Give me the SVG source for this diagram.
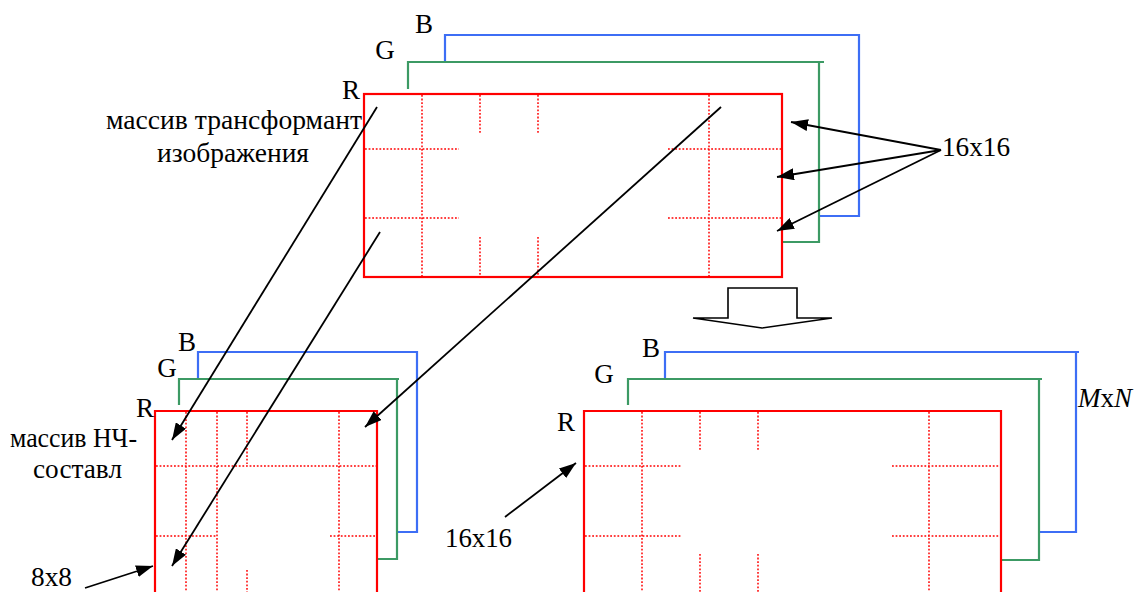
<svg xmlns="http://www.w3.org/2000/svg" width="1136" height="592" viewBox="0 0 1136 592">
<style>
.t{font-family:"Liberation Serif","DejaVu Serif","Times New Roman",serif;font-size:27px;fill:#000}
.r{fill:none;stroke:#ff0000;stroke-width:2.2}
.g{fill:none;stroke:#3c9a64;stroke-width:2.2}
.b{fill:none;stroke:#3d6ef5;stroke-width:2.2}
.d{fill:none;stroke:#ff0000;stroke-width:1.5;stroke-dasharray:1.8,1.8}
.c{fill:none;stroke:#000;stroke-width:1.8;marker-end:url(#ah)}
</style>
<defs>
<marker id="ah" markerUnits="userSpaceOnUse" markerWidth="17" markerHeight="12" refX="17" refY="6" orient="auto">
<path d="M0,0 L17,6 L0,12 z" fill="#000"/>
</marker>
</defs>
<rect width="1136" height="592" fill="#fff"/>

<g id="top-array">
<path class="b" d="M445,62 V35 H859 V216 H819"/>
<path class="g" d="M408,89 V62 H824 M819,62 V242 H782"/>
<path class="d" d="M422,95 V276 M709,95 V276 M480,95 V134 M480,237 V276 M538,95 V134 M538,237 V276 M365,149 H459 M668,149 H781 M365,218 H459 M668,218 H781"/>
<rect class="r" x="364" y="94" width="418" height="183"/>
<text class="t" x="424" y="33" text-anchor="middle">B</text>
<text class="t" x="385" y="59" text-anchor="middle">G</text>
<text class="t" x="351" y="99" text-anchor="middle">R</text>
<text class="t" x="106" y="129" textLength="256" lengthAdjust="spacingAndGlyphs">массив трансформант</text>
<text class="t" x="157" y="162" textLength="152" lengthAdjust="spacingAndGlyphs">изображения</text>
<text class="t" x="942" y="156" textLength="68" lengthAdjust="spacingAndGlyphs">16x16</text>
</g>

<g id="lowfreq-array">
<path class="b" d="M198,379 V352 H417 V532 H397"/>
<path class="g" d="M179,405 V379 H399 M397,379 V559 H377"/>
<path class="d" d="M186,412 V592 M217,412 V592 M339,412 V592 M247,412 V464 M247,570 V592 M156,466 H376 M156,536 H217 M330,536 H376"/>
<path class="r" d="M155,592 V411 H377 V592"/>
<text class="t" x="187" y="351" text-anchor="middle">B</text>
<text class="t" x="167" y="377" text-anchor="middle">G</text>
<text class="t" x="145" y="417" text-anchor="middle">R</text>
<text class="t" x="10" y="447" textLength="127" lengthAdjust="spacingAndGlyphs">массив НЧ-</text>
<text class="t" x="33" y="478" textLength="89" lengthAdjust="spacingAndGlyphs">составл</text>
<text class="t" x="31" y="586" textLength="41" lengthAdjust="spacingAndGlyphs">8x8</text>
</g>

<g id="result-array">
<path class="b" d="M665,379 V352 H1079 M1076,352 V532 H1039"/>
<path class="g" d="M628,405 V379 H1042 M1039,379 V560 H1001"/>
<path class="d" d="M642,412 V592 M929,412 V592 M700,412 V451 M700,554 V592 M758,412 V451 M758,554 V592 M585,466 H681 M892,466 H1000 M585,536 H681 M892,536 H1000"/>
<path class="r" d="M584,592 V411 H1001 V592"/>
<text class="t" x="651" y="357" text-anchor="middle">B</text>
<text class="t" x="604" y="383" text-anchor="middle">G</text>
<text class="t" x="566" y="431" text-anchor="middle">R</text>
<text class="t" x="1078" y="407"><tspan font-style="italic">M</tspan>x<tspan font-style="italic">N</tspan></text>
<text class="t" x="445" y="547" textLength="67" lengthAdjust="spacingAndGlyphs">16x16</text>
</g>

<g id="transform-arrow">
<polygon points="728,288 797,288 797,318 832,318 762,328 693,318 728,318" fill="#fff" stroke="#000" stroke-width="1.6" stroke-linejoin="miter"/>
</g>

<g id="connectors">
<line class="c" x1="941" y1="150" x2="791" y2="122"/>
<line class="c" x1="941" y1="150" x2="777" y2="177"/>
<line class="c" x1="941" y1="150" x2="777" y2="231"/>
<line class="c" x1="377" y1="107" x2="172" y2="440"/>
<line class="c" x1="380" y1="232" x2="172" y2="566"/>
<line class="c" x1="721" y1="107" x2="365" y2="427"/>
<line class="c" x1="85" y1="588" x2="153" y2="566"/>
<line class="c" x1="505" y1="517" x2="576" y2="463"/>
</g>
</svg>
